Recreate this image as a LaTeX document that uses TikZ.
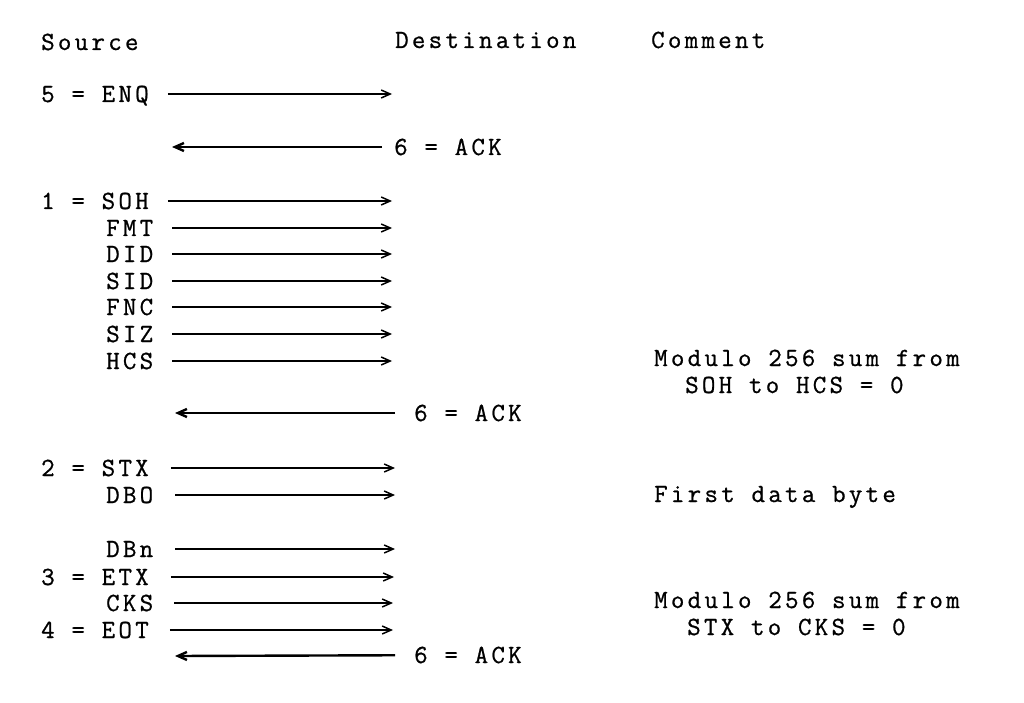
\documentclass[tikz,border=0pt]{standalone}
\usepackage{fontspec}
\setmainfont{Latin Modern Mono}[LetterSpace=12.5, FakeBold=0.8]
\usetikzlibrary{arrows.meta}

\begin{document}
\begin{tikzpicture}[x=1pt, y=-1pt,
  lbl/.style={anchor=west, inner sep=0pt, text height=16pt, text depth=0pt,
    font=\fontsize{26.2}{30}\selectfont},
  msg/.style={-{Straight Barb[length=9pt,width=8pt]}, line width=1.5pt, shorten <=19pt},
  ack/.style={-{Straight Barb[length=9pt,width=8pt]}, line width=2.4pt}]
  \useasboundingbox (0,0) rectangle (1024,703);
  % column heads
  \node[lbl] (src) at (41,42) {Source};
  \node[lbl] (dst) at (395,40) {Destination};
  \node[lbl] (cmt) at (651,40) {Comment};
  % enquiry
  \node[lbl] (enq) at (41,94) {5 = ENQ};
  \coordinate (enqD) at (392,94);
  \draw [msg] (enq) -- (enqD);
  \node[lbl] (ackA) at (394,147) {6 = ACK};
  \coordinate (ackAS) at (172,147);
  \draw [ack, shorten <=12pt] (ackA) -- (ackAS);
  % header
  \node[lbl] (soh) at (41,201) {1 = SOH};
  \node[lbl] (fmt) at (106,228) {FMT};
  \node[lbl] (did) at (106,254) {DID};
  \node[lbl] (sid) at (106,281) {SID};
  \node[lbl] (fnc) at (106,307) {FNC};
  \node[lbl] (siz) at (106,334) {SIZ};
  \node[lbl] (hcs) at (106,361) {HCS};
  \coordinate (sohD) at (392,201);
  \coordinate (fmtD) at (392,228);
  \coordinate (didD) at (392,254);
  \coordinate (sidD) at (392,281);
  \coordinate (fncD) at (392,307);
  \coordinate (sizD) at (392,334);
  \coordinate (hcsD) at (392,361);
  \draw [msg] (soh) -- (sohD);
  \draw [msg] (fmt) -- (fmtD);
  \draw [msg] (did) -- (didD);
  \draw [msg] (sid) -- (sidD);
  \draw [msg] (fnc) -- (fncD);
  \draw [msg] (siz) -- (sizD);
  \draw [msg] (hcs) -- (hcsD);
  \node[lbl] (hsum) at (654,358) {Modulo 256 sum from};
  \node[lbl] (hsum2) at (685,385) {SOH to HCS = 0};
  \node[lbl] (ackB) at (414,413) {6 = ACK};
  \coordinate (ackBS) at (175,413);
  \draw [ack, shorten <=19pt] (ackB) -- (ackBS);
  % data
  \node[lbl] (stx) at (41,468) {2 = STX};
  \node[lbl] (dbo) at (106,495) {DBO};
  \coordinate (stxD) at (395,468);
  \coordinate (dboD) at (395,495);
  \draw [msg, shorten <=22pt] (stx) -- (stxD);
  \draw [msg, shorten <=22pt] (dbo) -- (dboD);
  \node[lbl] (first) at (654,494) {First data byte};
  \node[lbl] (dbn) at (106,549) {DBn};
  \node[lbl] (etx) at (41,577) {3 = ETX};
  \node[lbl] (cks) at (106,603) {CKS};
  \node[lbl] (eot) at (41,630) {4 = EOT};
  \coordinate (dbnD) at (395,549);
  \coordinate (etxD) at (394,577);
  \coordinate (cksD) at (393,603);
  \coordinate (eotD) at (393,630);
  \draw [msg, shorten <=22pt] (dbn) -- (dbnD);
  \draw [msg, shorten <=22pt] (etx) -- (etxD);
  \draw [msg, shorten <=21pt] (cks) -- (cksD);
  \draw [msg, shorten <=21pt] (eot) -- (eotD);
  \node[lbl] (dsum) at (654,600) {Modulo 256 sum from};
  \node[lbl] (dsum2) at (687,627) {STX to CKS = 0};
  \node[lbl] (ackC) at (414,655) {6 = ACK};
  \coordinate (ackCS) at (175,656);
  \draw [ack, shorten <=19pt] (ackC) -- (ackCS);
\end{tikzpicture}
\end{document}
